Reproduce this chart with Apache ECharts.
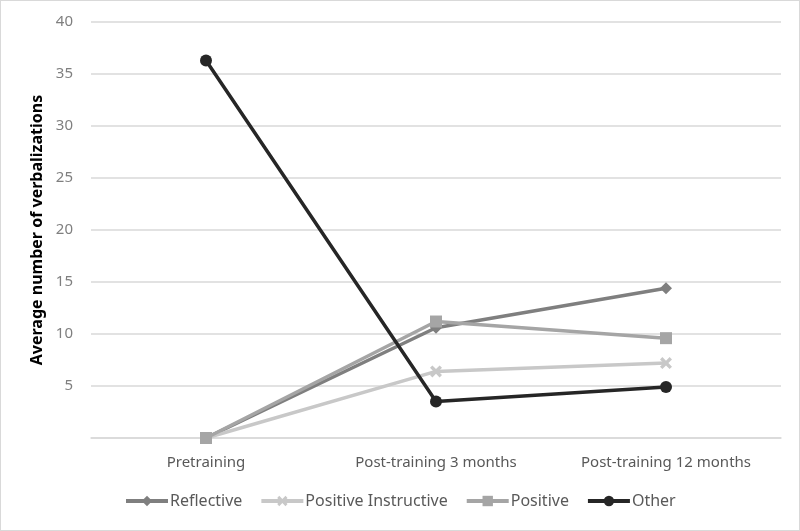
<!DOCTYPE html>
<html><head><meta charset="utf-8">
<script src="https://cdn.jsdelivr.net/npm/echarts@6/dist/echarts.min.js"></script>
<style>html,body{margin:0;padding:0;background:#fff}#c{width:800px;height:531px;box-sizing:border-box;border:1px solid #d9d9d9}</style>
</head><body><div id="c"></div>
<script>
var categories = ['Pretraining', 'Post-training 3 months', 'Post-training 12 months'];
var reflective = [0, 10.6, 14.4];
var positiveInstructive = [0, 6.4, 7.2];
var positive = [0, 11.2, 9.6];
var other = [36.3, 3.5, 4.9];
var seriesNames = ['Reflective', 'Positive Instructive', 'Positive', 'Other'];

var xPath = 'path://M2,0 L5,3 L8,0 L10,2 L7,5 L10,8 L8,10 L5,7 L2,10 L0,8 L3,5 L0,2 Z';
var font = 'Noto Sans';
function s(name, data, color, symbol, size) {
  return {name: name, type: 'line', data: data, symbol: symbol, symbolSize: size,
    lineStyle: {color: color, width: 3.5}, itemStyle: {color: color}, z: 2};
}
var chart = echarts.init(document.getElementById('c'));
chart.setOption({
  animation: false,
  textStyle: {fontFamily: font},
  grid: {left: 90, right: 18, top: 21, bottom: 92},
  legend: {
    bottom: 16, left: 118, itemWidth: 42, itemHeight: 13, itemGap: 17,
    lineStyle: {width: 4},
    textStyle: {color: '#595959', fontSize: 16, fontFamily: font, padding: [0, 0, 0, -3]},
    data: seriesNames
  },
  xAxis: {
    type: 'category', data: categories, boundaryGap: true,
    axisLine: {lineStyle: {color: '#d9d9d9', width: 1.5}},
    axisTick: {show: false},
    axisLabel: {color: '#595959', fontSize: 15, margin: 17, fontFamily: font}
  },
  yAxis: {
    type: 'value', min: 0, max: 40, interval: 5,
    name: 'Average number of verbalizations', nameLocation: 'middle', nameGap: 44,
    nameTextStyle: {color: '#000', fontSize: 16, fontWeight: 'bold', fontFamily: font},
    axisLine: {show: false}, axisTick: {show: false},
    axisLabel: {color: '#7f7f7f', fontSize: 15, margin: 18, fontFamily: font,
      formatter: function (v) { return v === 0 ? '' : v; }},
    splitLine: {lineStyle: {color: '#d9d9d9', width: 1.5}}
  },
  series: [
    s(seriesNames[0], reflective, '#7f7f7f', 'diamond', 12),
    s(seriesNames[1], positiveInstructive, '#c8c8c8', xPath, 12),
    s(seriesNames[2], positive, '#a5a5a5', 'rect', 12),
    s(seriesNames[3], other, '#262626', 'circle', 12)
  ]
});
</script></body></html>
